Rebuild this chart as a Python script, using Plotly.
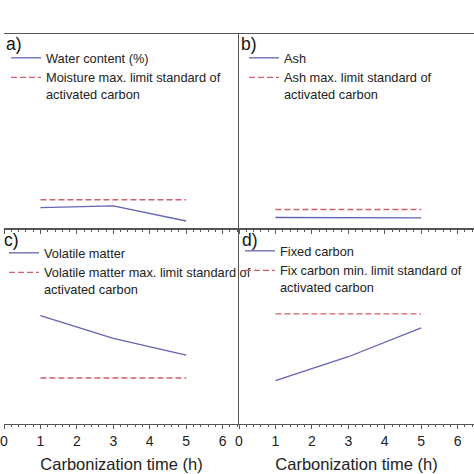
import plotly.graph_objects as go
from plotly.subplots import make_subplots

# ---- data ----
time_h = [1, 3, 5]
std_x = [1, 5]

water_content = [11.0, 11.9, 4.1]
moisture_limit = [15.0, 15.0]

ash = [5.9, 5.8, 5.7]
ash_limit = [10.0, 10.0]

volatile_matter = [55.6, 43.9, 35.3]
volatile_limit = [23.6, 23.6]

fixed_carbon = [22.3, 34.5, 49.3]
fixed_limit = [56.5, 56.5]

panel_labels = ["a)", "b)", "c)", "d)"]
x_title = "Carbonization time (h)"

SOLID = "#6464b4"
DASH = "#d0606e"
FONT = "Liberation Sans, Arial, sans-serif"

fig = make_subplots(rows=2, cols=2, horizontal_spacing=0, vertical_spacing=0)

panels = [
    (1, 1, water_content, moisture_limit, "Water content (%)",
     "Moisture max. limit standard of<br>activated carbon", "legend"),
    (1, 2, ash, ash_limit, "Ash",
     "Ash max. limit standard of<br>activated carbon", "legend2"),
    (2, 1, volatile_matter, volatile_limit, "Volatile matter",
     "Volatile matter max. limit standard of<br>activated carbon", "legend3"),
    (2, 2, fixed_carbon, fixed_limit, "Fixed carbon",
     "Fix carbon min. limit standard of<br>activated carbon", "legend4"),
]

for r, c, vals, lim, name1, name2, lg in panels:
    fig.add_trace(go.Scatter(x=time_h, y=vals, mode="lines", name=name1,
                             line=dict(color=SOLID, width=1.3), legend=lg),
                  row=r, col=c)
    fig.add_trace(go.Scatter(x=std_x, y=lim, mode="lines", name=name2,
                             line=dict(color=DASH, width=1.3, dash="6px,3px"),
                             legend=lg),
                  row=r, col=c)

W, H = 474, 474
mt, mb = 34, 50
plot_h = H - mt - mb


def py(pix):
    return (H - mb - pix) / plot_h


def px(pix):
    return pix / W


axis_common = dict(range=[0, 6.45], dtick=1, showgrid=False, zeroline=False,
                   showline=True, mirror=True, linecolor="#555555", linewidth=1,
                   ticks="outside", ticklen=4, tickcolor="#555555",
                   minor=dict(dtick=0.2, ticks="outside", ticklen=2,
                              tickcolor="#555555"),
                   tickfont=dict(family=FONT, size=14, color="#222222"))
yaxis_common = dict(range=[0, 100], showgrid=False, zeroline=False,
                    showticklabels=False, ticks="")

fig.update_layout(
    xaxis=dict(axis_common, domain=[0, 0.5], showticklabels=False),
    xaxis2=dict(axis_common, domain=[0.5, 1], showticklabels=False),
    xaxis3=dict(axis_common, domain=[0, 0.5],
                title=dict(text=x_title, standoff=10,
                           font=dict(family=FONT, size=16.5, color="#222222"))),
    xaxis4=dict(axis_common, domain=[0.5, 1],
                title=dict(text=x_title, standoff=10,
                           font=dict(family=FONT, size=16.5, color="#222222"))),
    yaxis=dict(yaxis_common, domain=[0.5, 1], showline=False),
    yaxis2=dict(yaxis_common, domain=[0.5, 1], showline=True, mirror=False,
                linecolor="#555555", linewidth=1),
    yaxis3=dict(yaxis_common, domain=[0, 0.5], showline=False),
    yaxis4=dict(yaxis_common, domain=[0, 0.5], showline=True, mirror=False,
                linecolor="#555555", linewidth=1),
)

legend_font = dict(family=FONT, size=12.8, color="#222222")
legend_common = dict(font=legend_font, bgcolor="rgba(0,0,0,0)",
                     xanchor="left", yanchor="top", tracegroupgap=0,
                     valign="top")
fig.update_layout(
    legend=dict(legend_common, x=px(2), y=py(43)),
    legend2=dict(legend_common, x=px(242), y=py(43)),
    legend3=dict(legend_common, x=px(0), y=py(238)),
    legend4=dict(legend_common, x=px(238), y=py(236)),
)

label_pos = [(0, 44), (237, 44), (-2, 240), (238, 240)]
for lab, (lx, ly) in zip(panel_labels, label_pos):
    fig.add_annotation(text=lab, xref="paper", yref="paper", x=px(lx), y=py(ly),
                       xanchor="left", yanchor="middle", showarrow=False,
                       font=dict(family=FONT, size=17.5, color="#111111"))

fig.update_layout(
    width=W, height=H,
    margin=dict(l=0, r=0, t=mt, b=mb),
    paper_bgcolor="white", plot_bgcolor="white",
    showlegend=True,
)

fig.write_html(
    "out.html",
    config={"displayModeBar": False},
    post_script="document.body.style.margin='0';document.body.style.padding='0';"
                "document.body.style.overflow='hidden';",
)
